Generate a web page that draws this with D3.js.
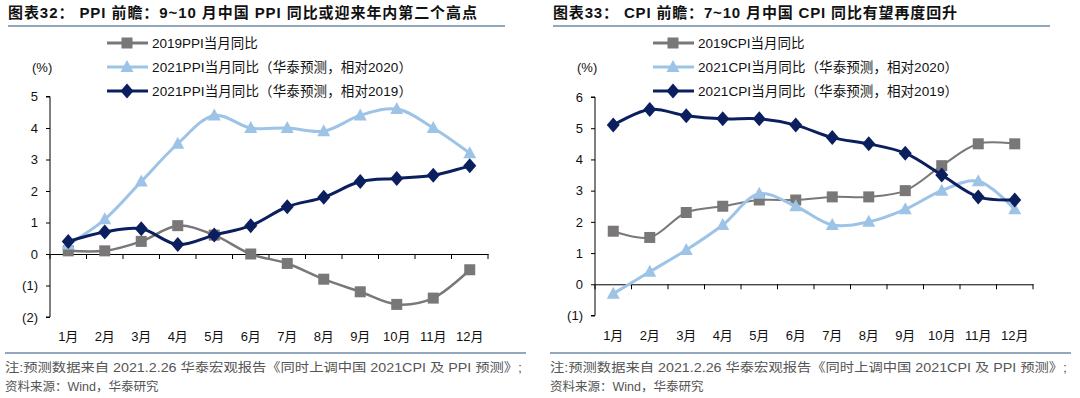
<!DOCTYPE html>
<html>
<head>
<meta charset="utf-8">
<script src="https://cdn.jsdelivr.net/npm/d3@7"></script>
<style>
  body { margin: 0; background: #fff; }
  svg text { font-family: "Liberation Sans", Arial, "Noto Sans CJK SC", sans-serif; }
</style>
</head>
<body>
<div id="chart"></div>
<script>
// months shared by both panels
const months = ["1月","2月","3月","4月","5月","6月","7月","8月","9月","10月","11月","12月"];

// left panel: PPI
const ppi2019 = [0.1, 0.1, 0.4, 0.9, 0.6, 0.0, -0.3, -0.8, -1.2, -1.6, -1.4, -0.5];
const ppi2021vs2020 = [0.3, 1.1, 2.3, 3.5, 4.4, 4.0, 4.0, 3.9, 4.4, 4.6, 4.0, 3.2];
const ppi2021vs2019 = [0.4, 0.7, 0.8, 0.3, 0.6, 0.9, 1.5, 1.8, 2.3, 2.4, 2.5, 2.8];
const ppiTicks = [-2, -1, 0, 1, 2, 3, 4, 5];

// right panel: CPI
const cpi2019 = [1.7, 1.5, 2.3, 2.5, 2.7, 2.7, 2.8, 2.8, 3.0, 3.8, 4.5, 4.5];
const cpi2021vs2020 = [-0.3, 0.4, 1.1, 1.9, 2.9, 2.5, 1.9, 2.0, 2.4, 3.0, 3.3, 2.4];
const cpi2021vs2019 = [5.1, 5.6, 5.4, 5.3, 5.3, 5.1, 4.7, 4.5, 4.2, 3.5, 2.8, 2.7];
const cpiTicks = [-1, 0, 1, 2, 3, 4, 5, 6];

const width = 1080, height = 398;
const svg = d3.select("#chart").append("svg")
    .attr("width", width)
    .attr("height", height);

const colors = {gray: "#7a7777", light: "#9dc3e6", navy: "#0b1f5e"};
const note1 = "注:预测数据来自 2021.2.26 华泰宏观报告《同时上调中国 2021CPI 及 PPI 预测》;";
const note2 = "资料来源：Wind，华泰研究";

function fmt(v) { return v < 0 ? "(" + Math.abs(v) + ")" : String(v); }

function marker(g, type, x, y, color) {
    if (type === "square") {
        g.append("rect").attr("x", x - 5.5).attr("y", y - 5.5)
            .attr("width", 11).attr("height", 11).attr("fill", color);
    } else if (type === "triangle") {
        g.append("path").attr("d", `M${x},${y-7}L${x+6.5},${y+5}L${x-6.5},${y+5}Z`).attr("fill", color);
    } else {
        g.append("path").attr("d", `M${x},${y-7.5}L${x+6.5},${y}L${x},${y+7.5}L${x-6.5},${y}Z`).attr("fill", color);
    }
}

function drawPanel(p) {
    const g = svg.append("g");

    // title + underline
    g.append("text").attr("x", p.left0).attr("y", 18)
        .attr("font-size", 15).attr("font-weight", "bold").attr("fill", "#111")
        .attr("textLength", p.titleLen).attr("lengthAdjust", "spacing")
        .text(p.title);
    g.append("line").attr("x1", p.left0).attr("x2", p.left0 + 497)
        .attr("y1", 26).attr("y2", 26).attr("stroke", "#6e88a6").attr("stroke-width", 1.5);

    // scales
    const x = d3.scaleBand().domain(months).range([p.x0, p.x1]);
    const y = d3.scaleLinear().domain([p.ticks[0], p.ticks[p.ticks.length - 1]]).range([p.yb, p.yt]);

    // y axis
    const yAxis = g.append("g")
        .attr("transform", `translate(${p.x0},0)`)
        .call(d3.axisLeft(y).tickValues(p.ticks).tickFormat(fmt).tickSize(4).tickPadding(8));
    yAxis.select(".domain").attr("stroke", "#000").attr("d", `M-4,${y(p.ticks[p.ticks.length-1])}H0V${y(p.ticks[0])}H-4`);
    yAxis.selectAll("text").attr("font-size", 13).attr("fill", "#111")
        .style("font-family", "'Liberation Sans', Arial, sans-serif");

    // x axis at zero
    const xAxis = g.append("g")
        .attr("transform", `translate(0,${y(0)})`)
        .call(d3.axisBottom(x).tickSize(0).tickFormat(""));
    xAxis.select(".domain").attr("stroke", "#000");
    xAxis.selectAll(".tick").remove();
    xAxis.selectAll(".sep").data(d3.range(13)).enter().append("line")
        .attr("x1", i => p.x0 + i * x.bandwidth()).attr("x2", i => p.x0 + i * x.bandwidth())
        .attr("y1", 0).attr("y2", 5).attr("stroke", "#000");

    // month labels below plot
    g.selectAll(".mlab").data(months).enter().append("text")
        .attr("x", d => x(d) + x.bandwidth() / 2)
        .attr("y", p.yb + 24)
        .attr("text-anchor", "middle").attr("font-size", 13).attr("fill", "#111")
        .text(d => d);

    // unit
    g.append("text").attr("x", p.unitX).attr("y", 72).attr("font-size", 13)
        .attr("fill", "#111").text("(%)");

    // series lines
    p.series.forEach(s => {
        const line = d3.line()
            .x((d, i) => x(months[i]) + x.bandwidth() / 2)
            .y(d => y(d))
            .curve(d3.curveCatmullRom.alpha(0.5));
        g.append("path").datum(s.values).attr("d", line)
            .attr("fill", "none").attr("stroke", s.color).attr("stroke-width", s.width);
        s.values.forEach((v, i) => marker(g, s.marker, x(months[i]) + x.bandwidth() / 2, y(v), s.color));
    });

    // legend
    p.series.forEach((s, k) => {
        const ly = 43 + k * 24;
        g.append("line").attr("x1", p.legX).attr("x2", p.legX + 41)
            .attr("y1", ly).attr("y2", ly).attr("stroke", s.color).attr("stroke-width", 3);
        marker(g, s.marker, p.legX + 20, ly, s.color);
        const t = g.append("text").attr("x", p.legX + 45).attr("y", ly + 5)
            .attr("font-size", 13.5).attr("fill", "#111").text(s.name);
        if (k > 0) t.attr("textLength", 260).attr("lengthAdjust", "spacing");
    });

    // footer
    g.append("line").attr("x1", p.left0 - 3).attr("x2", p.left0 + 518)
        .attr("y1", 353).attr("y2", 353).attr("stroke", "#6e88a6").attr("stroke-width", 1.5);
    g.append("text").attr("x", p.left0 - 3).attr("y", 372).attr("font-size", 12.5)
        .attr("fill", "#555").attr("textLength", 517).attr("lengthAdjust", "spacingAndGlyphs").text(note1);
    g.append("text").attr("x", p.left0 - 3).attr("y", 391).attr("font-size", 12.5)
        .attr("fill", "#555").text(note2);
}

drawPanel({
    title: "图表32：  PPI 前瞻：9~10 月中国 PPI 同比或迎来年内第二个高点",
    titleLen: 469,
    left0: 8, x0: 50, x1: 488, yt: 96.5, yb: 317, ticks: ppiTicks,
    unitX: 32, legX: 107,
    series: [
        {name: "2019PPI当月同比", values: ppi2019, color: colors.gray, marker: "square", width: 2.5},
        {name: "2021PPI当月同比（华泰预测，相对2020）", values: ppi2021vs2020, color: colors.light, marker: "triangle", width: 3},
        {name: "2021PPI当月同比（华泰预测，相对2019）", values: ppi2021vs2019, color: colors.navy, marker: "diamond", width: 3}
    ]
});

drawPanel({
    title: "图表33：  CPI 前瞻：7~10 月中国 CPI 同比有望再度回升",
    titleLen: 404,
    left0: 553, x0: 595, x1: 1033, yt: 97, yb: 315.5, ticks: cpiTicks,
    unitX: 577, legX: 653,
    series: [
        {name: "2019CPI当月同比", values: cpi2019, color: colors.gray, marker: "square", width: 2},
        {name: "2021CPI当月同比（华泰预测，相对2020）", values: cpi2021vs2020, color: colors.light, marker: "triangle", width: 3},
        {name: "2021CPI当月同比（华泰预测，相对2019）", values: cpi2021vs2019, color: colors.navy, marker: "diamond", width: 3}
    ]
});
</script>
</body>
</html>
